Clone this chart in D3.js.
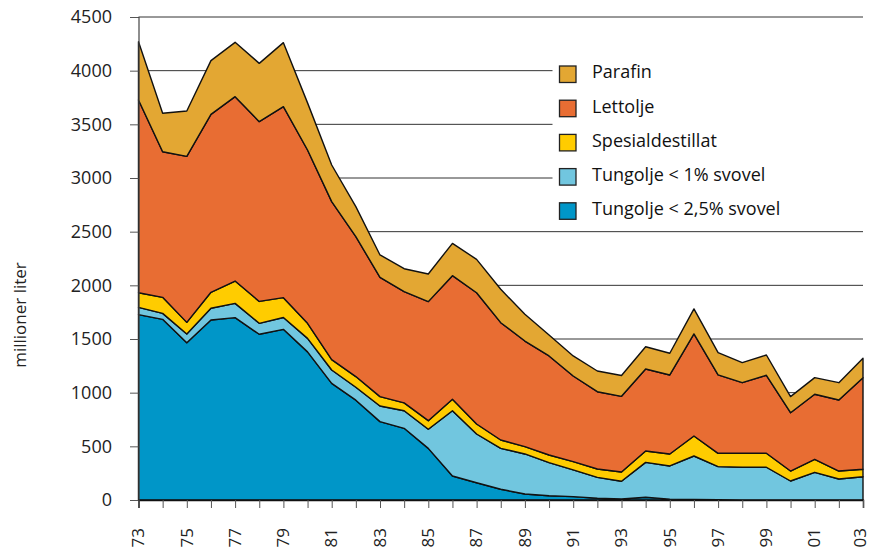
<!DOCTYPE html>
<html>
<head>
<meta charset="utf-8">
<script src="https://cdn.jsdelivr.net/npm/d3@7"></script>
<style>
  body { margin: 0; background: #fff; }
  svg { display: block; font-family: 'Open Sans', sans-serif; }
</style>
</head>
<body>
<div id="chart"></div>
<script>
// years 1973-2003
const years = d3.range(1973, 2004);

// millioner liter, per product
const tungolje25 = [1727, 1683, 1466, 1677, 1699, 1544, 1590, 1380, 1087, 930, 730, 668, 481, 224, 161, 100,
  56, 40, 31, 16, 10, 25, 8, 5, 3, 0, 0, 0, 0, 0, 0];
const tungolje1 = [68, 56, 81, 109, 133, 102, 110, 126, 124, 120, 146, 164, 178, 608, 454, 381,
  373, 308, 249, 195, 165, 326, 309, 405, 308, 305, 305, 177, 258, 196, 217];
const spesial = [136, 149, 108, 149, 208, 204, 185, 140, 97, 100, 87, 73, 80, 106, 93, 78,
  68, 71, 77, 78, 86, 106, 112, 186, 124, 130, 130, 93, 121, 74, 69];
const lettolje = [1796, 1357, 1547, 1658, 1718, 1675, 1780, 1615, 1472, 1303, 1112, 1036, 1109, 1152, 1223, 1093,
  984, 923, 798, 720, 705, 763, 736, 951, 730, 658, 727, 543, 606, 662, 854];
const parafin = [543, 358, 422, 501, 506, 543, 596, 439, 341, 280, 208, 214, 258, 301, 311, 311,
  249, 195, 187, 193, 194, 208, 202, 233, 208, 187, 189, 150, 155, 161, 180];

// stacking order bottom -> top
const keys = ['tungolje25', 'tungolje1', 'spesial', 'lettolje', 'parafin'];
const labels = {
  parafin: 'Parafin',
  lettolje: 'Lettolje',
  spesial: 'Spesialdestillat',
  tungolje1: 'Tungolje < 1% svovel',
  tungolje25: 'Tungolje < 2,5% svovel',
};
const colors = {
  parafin: '#e3a733',
  lettolje: '#e86d33',
  spesial: '#ffcc00',
  tungolje1: '#71c6df',
  tungolje25: '#0096c8',
};
const yTicks = d3.range(0, 4501, 500);
const legendOrder = ['parafin', 'lettolje', 'spesial', 'tungolje1', 'tungolje25'];

const table = years.map((year, i) => ({
  year,
  tungolje25: tungolje25[i],
  tungolje1: tungolje1[i],
  spesial: spesial[i],
  lettolje: lettolje[i],
  parafin: parafin[i],
}));

const width = 870;
const height = 551;
const margin = { top: 17, right: 7, bottom: 51, left: 138.5 };

const svg = d3.select('#chart').append('svg')
  .attr('width', width)
  .attr('height', height);

const x = d3.scaleLinear()
  .domain([1973, 2003])
  .range([margin.left, width - margin.right]);
const y = d3.scaleLinear()
  .domain([0, 4500])
  .range([height - margin.bottom, margin.top]);

const legendX = 559.5;

// gridlines (behind the areas, cut short where the legend sits)
svg.append('g')
  .selectAll('line')
  .data(yTicks.filter(d => d > 0))
  .join('line')
  .attr('x1', margin.left)
  .attr('x2', d => (d >= 3000 && d <= 4000 ? legendX - 7 : x(2003)))
  .attr('y1', d => y(d))
  .attr('y2', d => y(d))
  .attr('stroke', '#333')
  .attr('stroke-width', 1);

const series = d3.stack().keys(keys)(table);

const area = d3.area()
  .x(d => x(d.data.year))
  .y0(d => y(d[0]))
  .y1(d => y(d[1]));

svg.append('g')
  .selectAll('path')
  .data(series)
  .join('path')
  .attr('fill', d => colors[d.key])
  .attr('stroke', '#111')
  .attr('stroke-width', 1.4)
  .attr('stroke-linejoin', 'round')
  .attr('d', area);

// y axis
const yAxis = svg.append('g')
  .attr('transform', `translate(${margin.left},0)`)
  .call(d3.axisLeft(y).tickValues(yTicks).tickSize(8.5).tickPadding(18).tickFormat(d3.format('d')));
yAxis.select('.domain').attr('stroke', '#444').attr('stroke-width', 1.2);
yAxis.selectAll('.tick line').attr('stroke', '#555');
yAxis.selectAll('.tick text')
  .attr('fill', '#222')
  .style('font-size', '18px')
  .style('font-family', 'Open Sans, sans-serif');

// x axis
const xAxis = svg.append('g')
  .attr('transform', `translate(0,${y(0)})`)
  .call(d3.axisBottom(x).tickValues(years).tickSize(8).tickFormat(''));
xAxis.select('.domain').attr('stroke', '#111').attr('stroke-width', 1.5);
xAxis.selectAll('.tick line').attr('stroke', '#555');

// rotated year labels, every second year; last one nudged in from the edge
svg.append('g')
  .selectAll('text')
  .data(years.filter((d, i) => i % 2 === 0))
  .join('text')
  .attr('transform', d => `translate(${x(d) - (d === 2003 ? 3 : 0)},${y(0) + 28}) rotate(-90)`)
  .attr('text-anchor', 'end')
  .attr('dy', '0.34em')
  .attr('fill', '#222')
  .style('font-size', '17px')
  .text(d => String(d).slice(2));

// axis title
svg.append('text')
  .attr('transform', `translate(20,${315}) rotate(-90)`)
  .attr('text-anchor', 'middle')
  .attr('dy', '0.36em')
  .attr('fill', '#222')
  .style('font-size', '17px')
  .text('millioner liter');

// legend
const legend = svg.append('g')
  .selectAll('g')
  .data(legendOrder)
  .join('g')
  .attr('transform', (d, i) => `translate(${legendX},${66 + i * 34.2})`);

legend.append('rect')
  .attr('width', 16.5)
  .attr('height', 16.5)
  .attr('fill', d => colors[d])
  .attr('stroke', '#222')
  .attr('stroke-width', 1.3);

legend.append('text')
  .attr('x', 32.5)
  .attr('y', 6)
  .attr('dy', '0.36em')
  .attr('fill', '#111')
  .style('font-size', '18px')
  .text(d => labels[d]);
</script>
</body>
</html>
